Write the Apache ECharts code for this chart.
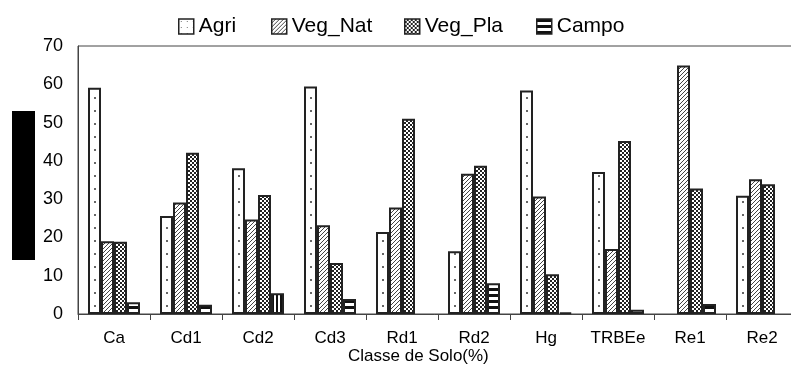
<!DOCTYPE html>
<html>
<head>
<meta charset="utf-8">
<script src="https://cdn.jsdelivr.net/npm/echarts@6/dist/echarts.min.js"></script>
<style>
html,body{margin:0;padding:0;background:#fff;}
#chart{width:791px;height:365px;}
</style>
</head>
<body>
<div id="chart"></div>
<script>
const categories = ['Ca','Cd1','Cd2','Cd3','Rd1','Rd2','Hg','TRBEe','Re1','Re2'];
const seriesNames = ['Agri','Veg_Nat','Veg_Pla','Campo'];
const agri   = [59.1, 25.6, 38.1, 59.4, 21.4, 16.4, 58.4, 37.1, null, 30.9];
const vegNat = [19.0, 29.1, 24.7, 23.2, 27.8, 36.6, 30.7, 17.0, 64.9, 35.2];
const vegPla = [18.9, 42.1, 31.1, 13.3, 51.0, 38.7, 10.4, 45.2, 32.8, 33.9];
const campo  = [3.1, 2.4, 5.4, 3.9, null, 8.0, 0.4, 1.1, 2.6, null];
const yTicks = {min: 0, max: 70, interval: 10};

function makeCanvas(w, h, draw) {
  const c = document.createElement('canvas');
  c.width = w; c.height = h;
  const ctx = c.getContext('2d');
  ctx.fillStyle = '#fff';
  ctx.fillRect(0, 0, w, h);
  draw(ctx);
  return {image: c, repeat: 'repeat'};
}
// dotted (aligned with the Agri bar centres, 72px category width)
const patAgri = makeCanvas(72, 13, ctx => {
  ctx.fillStyle = '#666';
  ctx.fillRect(22, 6, 2, 2);
  ctx.fillStyle = '#999';
  ctx.fillRect(29, 0, 1, 1);
});
const patAgriLegend = makeCanvas(6, 6, ctx => {
  ctx.fillStyle = '#666';
  ctx.fillRect(2, 2, 1, 1);
});
const patNat = makeCanvas(4, 4, ctx => {
  ctx.strokeStyle = '#444';
  ctx.lineWidth = 1;
  ctx.beginPath();
  ctx.moveTo(-1, 5); ctx.lineTo(5, -1);
  ctx.moveTo(-1, 1); ctx.lineTo(1, -1);
  ctx.moveTo(3, 5); ctx.lineTo(5, 3);
  ctx.stroke();
});
const patPla = makeCanvas(4, 4, ctx => {
  ctx.fillStyle = '#222';
  ctx.fillRect(0, 0, 4, 4);
  ctx.fillStyle = '#fff';
  ctx.fillRect(0, 0, 2, 2);
  ctx.fillRect(2, 2, 2, 2);
});
const patCampo = makeCanvas(6, 6, ctx => {
  ctx.fillStyle = '#111';
  ctx.fillRect(0, 0, 6, 3);
});
const patCampoV = makeCanvas(4, 4, ctx => {
  ctx.fillStyle = '#111';
  ctx.fillRect(0, 0, 2, 4);
});

const patterns = [patAgri, patNat, patPla, patCampo];
const values = [agri, vegNat, vegPla, campo];

const chart = echarts.init(document.getElementById('chart'), null, {renderer: 'canvas'});

const series = seriesNames.map((name, i) => ({
  name: name,
  type: 'bar',
  barWidth: 13,
  barGap: '0%',
  data: values[i].map((v, j) => {
    if (name === 'Campo' && categories[j] === 'Cd2') {
      return {value: v, itemStyle: {color: patCampoV}};
    }
    return v;
  }),
  itemStyle: {color: patterns[i], borderColor: '#222', borderWidth: 2},
  emphasis: {disabled: true},
  animation: false
}));

const legendLefts = [173, 266, 399, 531];
const legends = seriesNames.map((name, i) => ({
  left: legendLefts[i],
  top: 11,
  itemWidth: 15,
  itemHeight: 15,
  icon: 'rect',
  data: [{name: name, itemStyle: {color: i === 0 ? patAgriLegend : patterns[i], borderColor: '#222', borderWidth: 1.5}}],
  textStyle: {fontFamily: 'Liberation Sans', fontSize: 21, color: '#000', padding: 0},
  selectedMode: false
}));

chart.setOption({
  animation: false,
  backgroundColor: '#fff',
  title: {
    text: 'Classe de Solo(%)',
    left: 348,
    top: 348,
    padding: 0,
    textStyle: {fontFamily: 'Liberation Sans', fontSize: 17, fontWeight: 'normal', color: '#000'}
  },
  legend: legends,
  grid: {left: 78, top: 46, width: 720, height: 268, outerBoundsMode: 'none', containLabel: false,
         show: true, borderColor: '#444', borderWidth: 1, backgroundColor: 'transparent'},
  xAxis: {
    type: 'category',
    data: categories,
    axisLine: {lineStyle: {color: '#444', width: 1}},
    axisTick: {show: true, length: 6, lineStyle: {color: '#444'}},
    axisLabel: {margin: 16, fontFamily: 'Liberation Sans', fontSize: 17, color: '#000'}
  },
  yAxis: {
    type: 'value',
    min: yTicks.min,
    max: yTicks.max,
    interval: yTicks.interval,
    axisLine: {show: true, lineStyle: {color: '#444', width: 1}},
    axisTick: {show: false},
    splitLine: {show: false},
    axisLabel: {margin: 15, fontFamily: 'Liberation Sans', fontSize: 18, color: '#000'}
  },
  graphic: [{
    type: 'rect',
    shape: {x: 12, y: 111, width: 23, height: 149},
    style: {fill: '#000'}
  }],
  series: series
});
</script>
</body>
</html>
